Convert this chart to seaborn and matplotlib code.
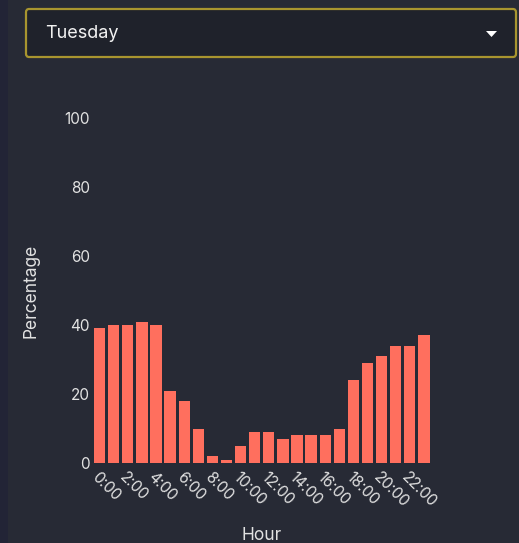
import matplotlib
matplotlib.use("Agg")
import matplotlib.pyplot as plt
import seaborn as sns
import pandas as pd
from matplotlib.patches import FancyBboxPatch, Rectangle, Polygon

# Data
hours = list(range(24))
percentages = [39, 40, 40, 41, 40, 21, 18, 10, 2, 1, 5, 9, 9, 7, 8, 8, 8, 10, 24, 29, 31, 34, 34, 37]
tick_hours = list(range(0, 24, 2))
tick_labels = [f"{h}:00" for h in tick_hours]
y_ticks = [0, 20, 40, 60, 80, 100]
selected_day = "Tuesday"

df = pd.DataFrame({"Hour": hours, "Percentage": percentages})

# Style
bg = "#272a35"
text_col = "#e2e2e2"
bar_col = "#ff6f5e"
sns.set_style("dark")
plt.rcParams["font.family"] = ["Inter", "DejaVu Sans"]

fig = plt.figure(figsize=(5.19, 5.43), dpi=100)
fig.patch.set_facecolor(bg)
W, H = 519, 543

# darker strip on the left edge
fig.patches.append(Rectangle((0, 0), 8 / W, 1, transform=fig.transFigure,
                             facecolor="#222436", edgecolor="none", zorder=0))

# Dropdown box
box = FancyBboxPatch((26 / W, 1 - 57 / H), 490 / W, 48 / H,
                     boxstyle="round,pad=0,rounding_size=0.006",
                     transform=fig.transFigure, facecolor="#1f222b",
                     edgecolor="#a8952f", linewidth=1.6, zorder=1)
fig.patches.append(box)
fig.text(45 / W, 1 - 33 / H, selected_day, color="#f2f2f2", fontsize=13,
         ha="left", va="center")
tri = Polygon([[486 / W, 1 - 31 / H], [497 / W, 1 - 31 / H], [491.5 / W, 1 - 37 / H]],
              closed=True, transform=fig.transFigure, facecolor="white",
              edgecolor="none", zorder=2)
fig.patches.append(tri)

# Chart
ax = fig.add_axes([92.5 / W, (H - 463) / H, (431 - 92.5) / W, (463 - 118) / H])
ax.set_facecolor(bg)
sns.barplot(data=df, x="Hour", y="Percentage", ax=ax, color=bar_col,
            saturation=1, width=0.8, edgecolor="none")
ax.set_ylim(0, 100)
ax.set_xlim(-0.5, 23.5)
ax.set_yticks(y_ticks)
ax.set_yticklabels([str(v) for v in y_ticks])
ax.set_xticks(tick_hours)
ax.set_xticklabels(tick_labels, rotation=-45, ha="left", va="top",
                   rotation_mode="anchor")
ax.tick_params(axis="both", length=0, colors=text_col, labelsize=11)
ax.tick_params(axis="y", pad=2)
ax.tick_params(axis="x", pad=5)
ax.set_xlabel("Hour", color=text_col, fontsize=12.5, labelpad=12)
ax.set_ylabel("Percentage", color=text_col, fontsize=12.5, labelpad=18)
ax.grid(False)
for s in ax.spines.values():
    s.set_visible(False)

fig.savefig("out.png", dpi=100, facecolor=bg)
